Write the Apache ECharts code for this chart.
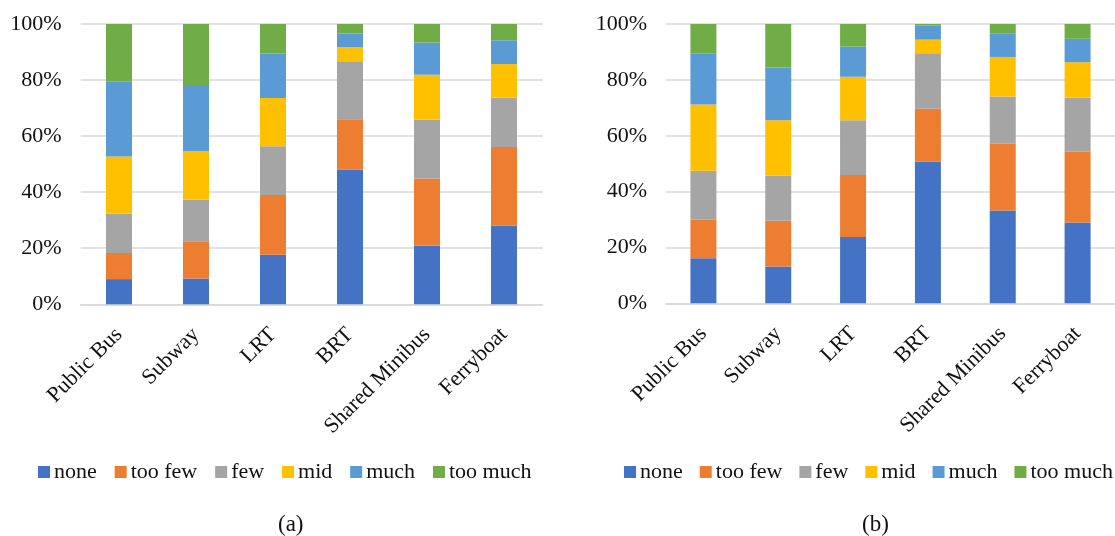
<!DOCTYPE html>
<html>
<head>
<meta charset="utf-8">
<script src="https://cdn.jsdelivr.net/npm/echarts@6/dist/echarts.min.js"></script>
<style>
  html, body { margin: 0; padding: 0; background: #fff; }
  #chart { width: 1115px; height: 536px; }
</style>
</head>
<body>
<div id="chart"></div>
<script>
// Transport modes shown on both panels
const categories = ['Public Bus', 'Subway', 'LRT', 'BRT', 'Shared Minibus', 'Ferryboat'];
const levels = ['none', 'too few', 'few', 'mid', 'much', 'too much'];
const yTicks = [0, 20, 40, 60, 80, 100];

// Panel (a): share of responses per level (%)
const aNone    = [9.0, 9.2, 17.7, 48.1, 20.9, 28.1];
const aTooFew  = [9.3, 13.3, 21.3, 17.9, 24.0, 28.0];
const aFew     = [14.1, 14.9, 17.4, 20.7, 21.0, 17.7];
const aMid     = [20.3, 17.2, 17.2, 5.1, 16.0, 11.9];
const aMuch    = [26.9, 23.6, 15.8, 4.8, 11.5, 8.5];
const aTooMuch = [20.4, 21.8, 10.6, 3.4, 6.6, 5.8];

// Panel (b): share of responses per level (%)
const bNone    = [16.1, 13.2, 23.7, 50.8, 33.2, 28.9];
const bTooFew  = [13.8, 16.4, 22.2, 18.9, 23.9, 25.4];
const bFew     = [17.6, 16.1, 19.6, 19.8, 16.9, 19.3];
const bMid     = [23.7, 19.8, 15.6, 4.9, 14.2, 12.7];
const bMuch    = [18.2, 18.9, 10.8, 5.0, 8.3, 8.4];
const bTooMuch = [10.6, 15.6, 8.1, 0.6, 3.5, 5.3];

const panelA = [aNone, aTooFew, aFew, aMid, aMuch, aTooMuch];
const panelB = [bNone, bTooFew, bFew, bMid, bMuch, bTooMuch];

const colors = ['#4472C4', '#ED7D31', '#A5A5A5', '#FFC000', '#5B9BD5', '#70AD47'];
const FONT = "'Liberation Serif', 'Times New Roman', serif";
const TEXT = '#111';

function xAxisFor(gridIndex) {
  return {
    type: 'category',
    gridIndex: gridIndex,
    data: categories,
    axisLine: { show: true, lineStyle: { color: '#d9d9d9', width: 1.5 } },
    axisTick: { show: false },
    axisLabel: { rotate: 45, margin: 27, interval: 0, fontFamily: FONT, fontSize: 22, color: TEXT }
  };
}

function yAxisFor(gridIndex) {
  return {
    type: 'value',
    gridIndex: gridIndex,
    min: yTicks[0],
    max: yTicks[yTicks.length - 1],
    interval: yTicks[1] - yTicks[0],
    axisLine: { show: false },
    axisTick: { show: false },
    splitLine: { lineStyle: { color: '#d9d9d9', width: 1.5 } },
    axisLabel: { margin: 19, fontFamily: FONT, fontSize: 22, color: TEXT, formatter: '{value}%' }
  };
}

function stackedSeries(panel, axisIndex, stackName) {
  return panel.map((values, i) => ({
    name: levels[i],
    type: 'bar',
    stack: stackName,
    xAxisIndex: axisIndex,
    yAxisIndex: axisIndex,
    barWidth: 26,
    itemStyle: { color: colors[i] },
    data: values
  }));
}

function legendAt(left, gap) {
  return {
    left: left,
    top: 461,
    padding: 0,
    itemGap: gap,
    itemWidth: 12,
    itemHeight: 12,
    icon: 'rect',
    textStyle: { fontFamily: FONT, fontSize: 22, color: TEXT, padding: [0, 0, 0, -1] },
    data: levels
  };
}

const chart = echarts.init(document.getElementById('chart'), null, { renderer: 'canvas' });
chart.setOption({
  backgroundColor: '#fff',
  color: colors,
  animation: false,
  grid: [
    { left: 80.5, top: 24, width: 462, height: 280.3 },
    { left: 666, top: 24, width: 459, height: 279.3 }
  ],
  xAxis: [xAxisFor(0), xAxisFor(1)],
  yAxis: [yAxisFor(0), yAxisFor(1)],
  legend: [legendAt(38, 17.9), legendAt(624, 17)],
  series: stackedSeries(panelA, 0, 'a').concat(stackedSeries(panelB, 1, 'b')),
  graphic: [
    { type: 'text', left: 278, top: 513, style: { text: '(a)', font: '23px ' + FONT, fill: TEXT } },
    { type: 'text', left: 862, top: 513, style: { text: '(b)', font: '23px ' + FONT, fill: TEXT } }
  ]
});
</script>
</body>
</html>
